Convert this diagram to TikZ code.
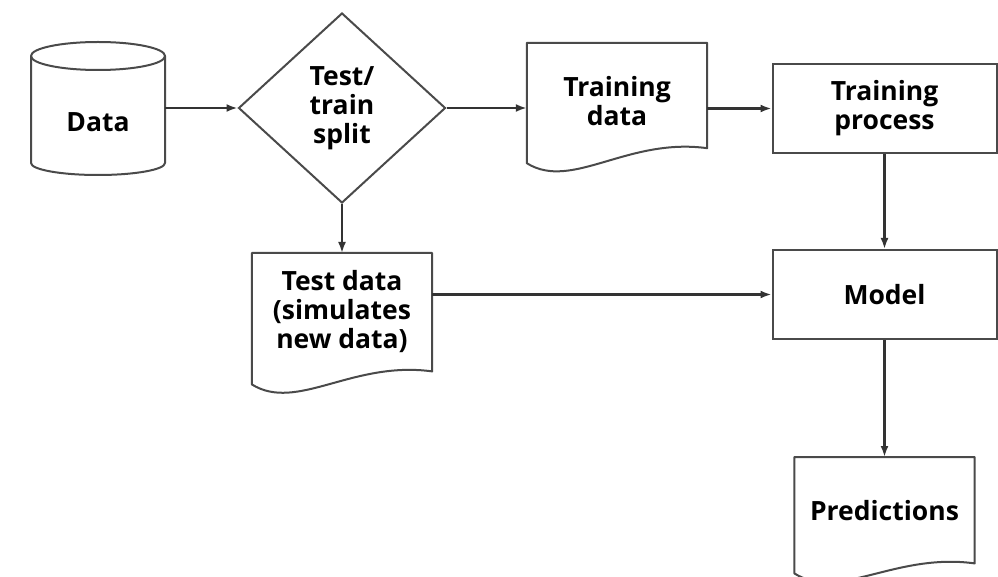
\documentclass[tikz,border=0pt]{standalone}
\usepackage{fontspec}
\setmainfont{Open Sans}
\usetikzlibrary{shapes.geometric, arrows.meta, positioning}
\definecolor{linegray}{HTML}{4A4A4A}
\definecolor{arrowgray}{HTML}{333333}

% wavy bottom of a document node (#2: drop at the left, #3: drop at the right)
\newcommand{\paperoutline}[3]{%
  \draw[outline] ([yshift={-(#2pt)}]#1.south west) -- (#1.north west) -- (#1.north east) -- ([yshift={-(#3pt)}]#1.south east)
    .. controls ([xshift=-80pt,yshift={11pt-(#3pt)}]#1.south east) and ([xshift=45pt,yshift={-(#2pt)-28pt}]#1.south west) .. cycle;}

\begin{document}
\begin{tikzpicture}[x=1pt, y=-1pt,
    every node/.style={font=\fontsize{26.5}{29}\selectfont\bfseries, align=center, inner sep=0pt},
    box/.style={rectangle, draw=linegray, line width=2pt, minimum width=224pt, minimum height=89pt},
    paper/.style={rectangle, minimum width=180pt},
    decision/.style={diamond, draw=linegray, line width=2pt, minimum width=207pt, minimum height=190pt},
    arrow/.style={-{Latex[length=11pt,width=8pt]}, line width=2.4pt, draw=arrowgray},
    outline/.style={draw=linegray, line width=2pt, line join=round}
]
    \useasboundingbox (0,0) rectangle (998,577);

    \node[minimum width=134pt] (data) at (98,122.5) {Data};
    \node[decision] (split) at (342,108) {Test/\\train\\split};
    \node[paper, minimum height=117pt] (traindata) at (617,101.5) {Training\\data};
    \node[box] (trainproc) at (884.5,108.5) {Training\\process};
    \node[box, below=95pt of trainproc] (model) {Model};
    \node[paper, minimum height=116pt, below=49pt of split] (testdata) {Test data\\(simulates\\new data)};
    \node[paper, minimum height=106pt, below=117pt of model] (preds) {Predictions};

    % cylinder round the data node
    \draw[outline] ([xshift=-67pt,yshift=66.5pt]data.center) -- ([xshift=-67pt,yshift=-40.5pt]data.center)
      arc[start angle=180, end angle=360, x radius=67pt, y radius=12pt] -- ([xshift=67pt,yshift=66.5pt]data.center);
    \draw[outline] ([yshift=66.5pt]data.center) ellipse [x radius=67pt, y radius=14pt];

    \paperoutline{traindata}{3}{-12}
    \paperoutline{testdata}{15}{2}
    \paperoutline{preds}{10}{0}

    \draw[arrow] (data.east |- split.west) -- (split.west);
    \draw[arrow] (split.east) -- (split.east -| traindata.west);
    \draw[arrow] (traindata.east |- trainproc.west) -- (trainproc.west);
    \draw[arrow] (trainproc) -- (model);
    \draw[arrow] (split) -- (testdata);
    \draw[arrow] (testdata.east |- model.west) -- (model.west);
    \draw[arrow] (model) -- (preds);

\end{tikzpicture}
\end{document}
